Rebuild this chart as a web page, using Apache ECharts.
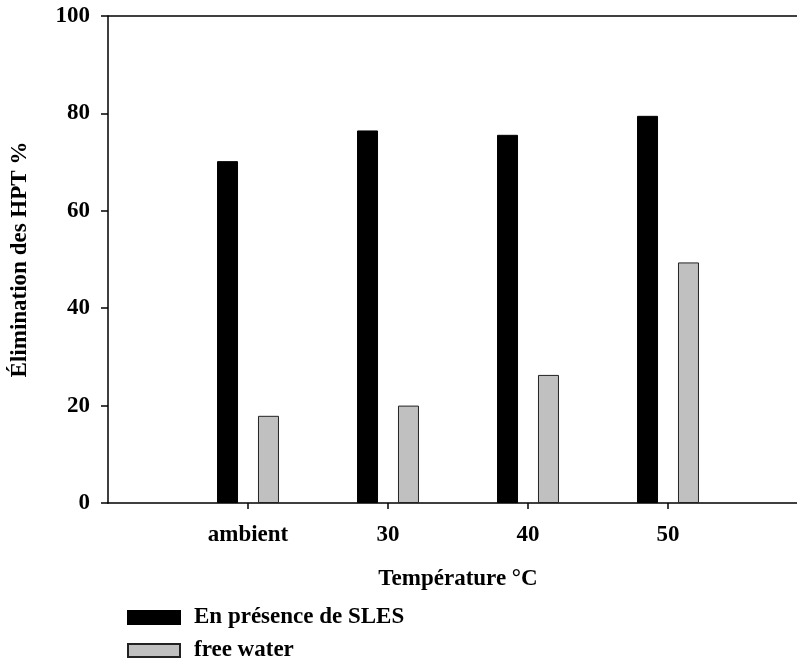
<!DOCTYPE html>
<html>
<head>
<meta charset="utf-8">
<script src="https://cdn.jsdelivr.net/npm/echarts@6/dist/echarts.min.js"></script>
<style>
  html, body { margin: 0; padding: 0; background: #fff; }
  #chart { width: 797px; height: 660px; }
</style>
</head>
<body>
<div id="chart"></div>
<script>
// empty slots at both ends keep the axis padding like the original plot
const categories = ['', 'ambient', '30', '40', '50', ''];
const slesValues = [null, 70.2, 76.5, 75.6, 79.5, null];
const waterValues = [null, 17.9, 20.0, 26.3, 49.4, null];
const yTicks = { min: 0, max: 100, interval: 20 };

const font = '"Liberation Serif", "Times New Roman", serif';
const labelSize = 23;

const myChart = echarts.init(document.getElementById('chart'));

const legendText = {
    fontFamily: font,
    fontWeight: 'bold',
    fontSize: labelSize,
    color: '#000',
    padding: [0, 0, 0, 9]
};

const option = {
    backgroundColor: '#fff',
    animation: false,
    textStyle: { fontFamily: font },
    grid: {
        left: 108,
        right: -11,
        top: 16,
        bottom: 157,
        outerBoundsMode: 'none'
    },
    // one legend per row so the rows sit where the original has them
    legend: [
        {
            left: 122,
            top: 601,
            itemWidth: 52,
            itemHeight: 13,
            icon: 'rect',
            textStyle: legendText,
            data: ['En présence de SLES']
        },
        {
            left: 122,
            top: 634,
            itemWidth: 52,
            itemHeight: 13,
            icon: 'rect',
            textStyle: legendText,
            data: ['free water']
        }
    ],
    xAxis: {
        type: 'category',
        data: categories,
        boundaryGap: false,
        name: 'Température °C',
        nameLocation: 'middle',
        nameGap: 65,
        nameTextStyle: { fontFamily: font, fontWeight: 'bold', fontSize: labelSize, color: '#000' },
        axisLine: { lineStyle: { color: '#000', width: 1.5 } },
        axisTick: {
            show: true,
            length: 6,
            interval: (index) => index > 0,
            lineStyle: { color: '#000', width: 1.5 }
        },
        axisLabel: {
            margin: 21,
            fontFamily: font,
            fontWeight: 'bold',
            fontSize: labelSize,
            color: '#000'
        },
        splitLine: { show: false }
    },
    yAxis: {
        type: 'value',
        min: yTicks.min,
        max: yTicks.max,
        interval: yTicks.interval,
        name: 'Élimination des HPT %',
        nameLocation: 'middle',
        nameGap: 76,
        nameTextStyle: { fontFamily: font, fontWeight: 'bold', fontSize: labelSize, color: '#000' },
        axisLine: { show: true, lineStyle: { color: '#000', width: 1.5 } },
        axisTick: { show: true, length: 7, lineStyle: { color: '#000', width: 1.5 } },
        axisLabel: {
            margin: 18,
            fontFamily: font,
            fontWeight: 'bold',
            fontSize: labelSize,
            color: '#000'
        },
        splitLine: { show: false }
    },
    series: [
        {
            name: 'En présence de SLES',
            type: 'bar',
            barWidth: 21,
            barGap: '95%',
            itemStyle: { color: '#000', borderColor: '#000', borderWidth: 1 },
            data: slesValues,
            // top frame line
            markLine: {
                silent: true,
                symbol: 'none',
                label: { show: false },
                lineStyle: { color: '#000', width: 1.5, type: 'solid' },
                data: [{ yAxis: yTicks.max }]
            }
        },
        {
            name: 'free water',
            type: 'bar',
            barWidth: 21,
            itemStyle: { color: '#c0c0c0', borderColor: '#222', borderWidth: 1 },
            data: waterValues
        }
    ]
};

myChart.setOption(option);
</script>
</body>
</html>
